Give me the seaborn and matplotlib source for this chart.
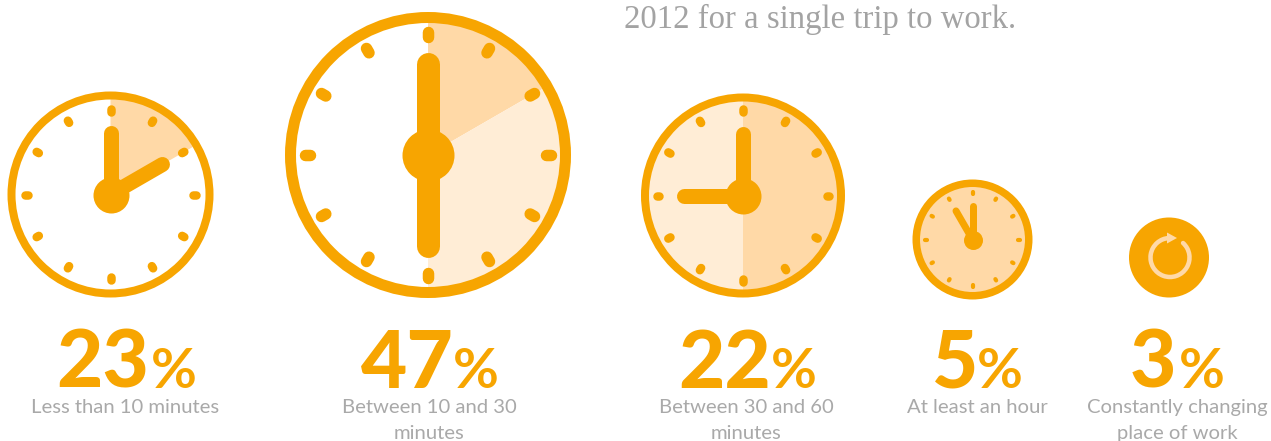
import matplotlib
matplotlib.use("Agg")
import matplotlib.pyplot as plt
import seaborn as sns
from matplotlib.patches import Wedge, Circle, Arc, Polygon
import math

# ---- data ----
title_tail = "2012 for a single trip to work."
percent_values = [23, 47, 22, 5, 3]
category_labels = ["Less than 10 minutes", "Between 10 and 30\nminutes", "Between 30 and 60\nminutes",
                   "At least an hour", "Constantly changing\nplace of work"]
# clock-face shading: (start deg, end deg, tint) clockwise from 12
shading = [[(0, 60, "dark")],
           [(0, 60, "dark"), (60, 180, "light")],
           [(0, 180, "dark"), (180, 360, "light")],
           [(0, 360, "dark")]]
# hand directions in degrees clockwise from 12
hand_angles = [[0, 60], [0, 180], [0, 270], [0, 330]]

# ---- layout ----
ORANGE, DARK, LIGHT = "#F7A501", "#FFD9A7", "#FFEDD6"
TINT = {"dark": DARK, "light": LIGHT}
GREY = "#A9A9A9"
centers = [(110.5, 194.5), (428, 155), (743, 195.5), (972.5, 239.5)]
radii = [103, 143, 102, 60]
ring_w = [8, 11, 8, 7.5]
tick_d = [84, 120.5, 85, 46.5]
tick_len = [2.5, 5, 2.5, 1.5]
tick_w = [8.5, 11.5, 8.5, 4.2]
hub_r = [18, 26, 18, 9.5]
hand_w = [15, 23, 15, 7]
hand_len = [[62, 60], [91, 91], [62, 59], [33.5, 33]]

number_x = [[56, 151], [361, 453], [678, 771], [932, 977], [1130, 1179]]
label_x = [125, 429, 746, 977, 1177]
PX = 0.72

sns.set_theme(style="white")
plt.rcParams["font.family"] = ["Lato", "DejaVu Sans"]
fig = plt.figure(figsize=(12.71, 4.41), dpi=100)
ax = fig.add_axes([0, 0, 1, 1])
ax.set_xlim(0, 1271)
ax.set_ylim(441, 0)
ax.axis("off")


def ang(d):
    return d - 90


def stroke(x0, y0, x1, y1, w, z):
    sns.lineplot(x=[x0, x1], y=[y0, y1], color=ORANGE, linewidth=w * PX, solid_capstyle="round",
                 sort=False, estimator=None, legend=False, ax=ax, zorder=z)


for i, c in enumerate(centers):
    R = radii[i]
    for a0, a1, tint in shading[i]:
        ax.add_patch(Wedge(c, R - ring_w[i] / 2, ang(a0), ang(a1), facecolor=TINT[tint], edgecolor="none", zorder=1))
    ax.add_patch(Circle(c, R - ring_w[i] / 2, fill=False, edgecolor=ORANGE, linewidth=ring_w[i] * PX, zorder=2))
    for k in range(12):
        r = math.radians(ang(30 * k))
        d0, d1 = tick_d[i] - tick_len[i] / 2, tick_d[i] + tick_len[i] / 2
        stroke(c[0] + d0 * math.cos(r), c[1] + d0 * math.sin(r),
               c[0] + d1 * math.cos(r), c[1] + d1 * math.sin(r), tick_w[i], 3)
    for a, L in zip(hand_angles[i], hand_len[i]):
        t = math.radians(ang(a))
        stroke(c[0], c[1], c[0] + L * math.cos(t), c[1] + L * math.sin(t), hand_w[i], 5)
    sns.scatterplot(x=[c[0]], y=[c[1]], s=(2 * hub_r[i] * PX) ** 2, color=ORANGE, linewidth=0,
                    legend=False, ax=ax, zorder=6)

# fifth icon
c5 = (1169, 257.5)
ax.add_patch(Circle(c5, 40, facecolor=ORANGE, edgecolor="none", zorder=2))
ax.add_patch(Arc((c5[0] + 1, c5[1]), 39, 39, theta1=-48, theta2=268, edgecolor=DARK, linewidth=4.5 * PX,
                 capstyle="round", zorder=3))
ax.add_patch(Polygon([(c5[0] - 2, c5[1] - 25), (c5[0] + 8, c5[1] - 19.5), (c5[0] - 2, c5[1] - 14)],
                     closed=True, facecolor=DARK, edgecolor="none", zorder=4))

# text
for pct, nx, lab, lx in zip(percent_values, number_x, category_labels, label_x):
    ax.text(nx[0], 388, str(pct), color=ORANGE, fontsize=80 * PX, fontweight="black", ha="left", va="baseline")
    ax.text(nx[1], 388, "%", color=ORANGE, fontsize=56 * PX, fontweight="bold", ha="left", va="baseline")
    for line, y in zip(lab.split("\n"), [413, 439]):
        ax.text(lx, y, line, color=GREY, fontsize=20.3 * PX, ha="center", va="baseline")

ax.text(624, 28, title_tail, color="#A3A3A3", fontsize=32.8 * PX, ha="left", va="baseline",
        fontfamily=["Liberation Serif", "DejaVu Serif"])

fig.savefig("out.png", dpi=100, facecolor="white")
